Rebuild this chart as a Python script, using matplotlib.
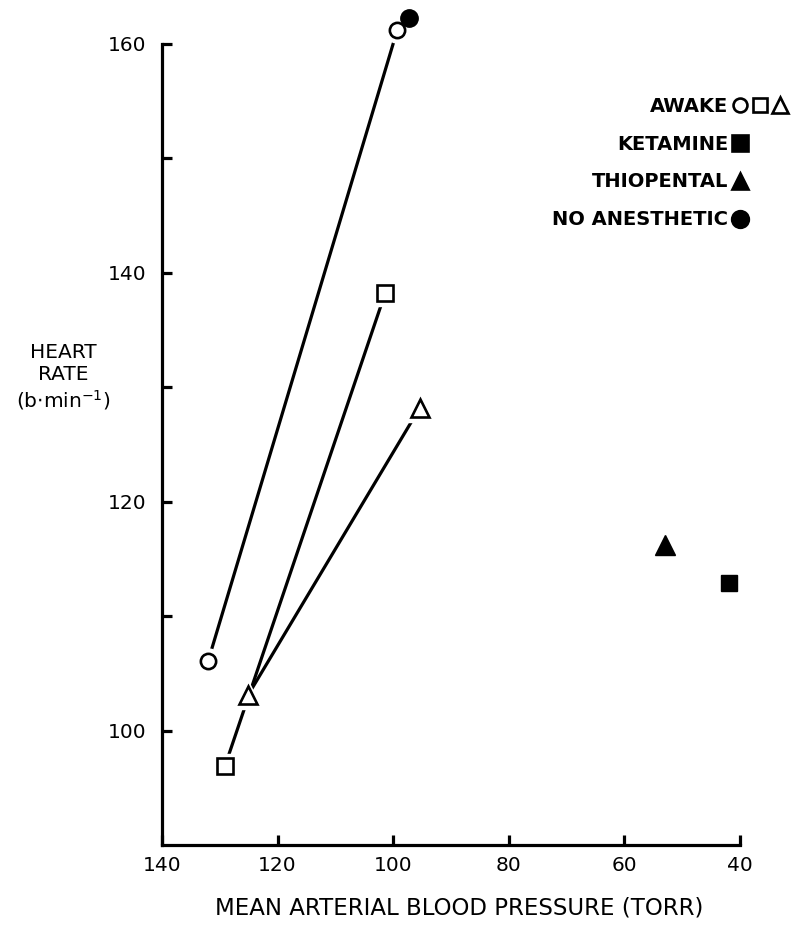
import matplotlib.pyplot as plt
from matplotlib.lines import Line2D
from matplotlib.legend_handler import HandlerTuple

plt.rcParams['font.family'] = ['DejaVu Sans']

# awake (open markers), each pair joined by a line
awake_circle_x = [132.0, 99.3]
awake_circle_y = [106.1, 161.2]
awake_square_x = [129.1, 101.4]
awake_square_y = [96.9, 138.2]
awake_tri_x = [125.1, 95.4]
awake_tri_y = [103.1, 128.2]

# anesthetised groups (filled markers)
no_anesth_x = [97.3]
no_anesth_y = [162.3]
thiopental_x = [53.0]
thiopental_y = [116.2]
ketamine_x = [41.9]
ketamine_y = [112.9]

x_ticks = [140, 120, 100, 80, 60, 40]
y_ticks = [100, 120, 140, 160]
y_minor = [110, 130, 150]

fig = plt.figure(figsize=(8.05, 9.31), dpi=100)
ax = fig.add_axes([0.2012, 0.0924, 0.718, 0.8604])

lw = 2.3
ms_open = 11
mew = 1.9

def pair(x, y, marker, ms):
    ax.plot(x, y, '-', color='black', lw=lw, zorder=1, clip_on=False)
    # white halo so the lines stop short of the markers
    ax.plot(x, y, ls='none', marker=marker, ms=ms + 7, color='white',
            zorder=2, clip_on=False)
    ax.plot(x, y, ls='none', marker=marker, ms=ms, mfc='white',
            mec='black', mew=mew, zorder=3, clip_on=False)

pair(awake_circle_x, awake_circle_y, 'o', ms_open)
pair(awake_square_x, awake_square_y, 's', ms_open)
pair(awake_tri_x, awake_tri_y, '^', ms_open + 2)

ax.plot(no_anesth_x, no_anesth_y, ls='none', marker='o', ms=12.5,
        color='black', zorder=4, clip_on=False)
ax.plot(thiopental_x, thiopental_y, ls='none', marker='^', ms=14,
        color='black', clip_on=False)
ax.plot(ketamine_x, ketamine_y, ls='none', marker='s', ms=11.5,
        color='black', clip_on=False)

ax.set_xlim(140, 40)
ax.set_ylim(90, 160)
ax.set_xticks(x_ticks)
ax.set_xticklabels([str(v) for v in x_ticks])
ax.set_yticks(y_ticks)
ax.set_yticks(y_minor, minor=True)
ax.tick_params(axis='both', which='both', direction='in', width=lw,
               length=7, labelsize=14.5, color='black')
ax.tick_params(axis='x', pad=8)
ax.tick_params(axis='y', pad=11)

for side in ['top', 'right']:
    ax.spines[side].set_visible(False)
for side in ['left', 'bottom']:
    ax.spines[side].set_linewidth(lw)

ax.set_xlabel('MEAN ARTERIAL BLOOD PRESSURE (TORR)', fontsize=16.5)
ax.xaxis.set_label_coords(0.514, -0.064)
ax.set_ylabel('HEART\nRATE\n(b$\\cdot$min$^{-1}$)', rotation=0,
              fontsize=14.5, linespacing=1.2, ha='center', va='center')
ax.yaxis.set_label_coords(-0.171, 0.584)

# legend: text then markers, single markers lined up with the first awake one
blank = Line2D([], [], ls='none', marker='none')
def key(marker, filled, ms):
    return Line2D([], [], ls='none', marker=marker, ms=ms,
                  mfc='black' if filled else 'white', mec='black', mew=mew)

handles = [
    (key('o', False, 10), key('s', False, 10), key('^', False, 11)),
    (key('s', True, 11), blank, blank),
    (key('^', True, 12), blank, blank),
    (key('o', True, 12), blank, blank),
]
labels = ['AWAKE', 'KETAMINE', 'THIOPENTAL', 'NO ANESTHETIC']
fig.legend(handles, labels, loc='upper right',
           bbox_to_anchor=(800 / 805, 1 - 87 / 931),
           handler_map={tuple: HandlerTuple(ndivide=None, pad=0)},
           markerfirst=False, frameon=False,
           prop={'size': 14, 'weight': 'bold'},
           handlelength=3.1, handletextpad=0.1, labelspacing=0.97,
           borderpad=0, numpoints=1)

fig.savefig('out.png', dpi=100)
